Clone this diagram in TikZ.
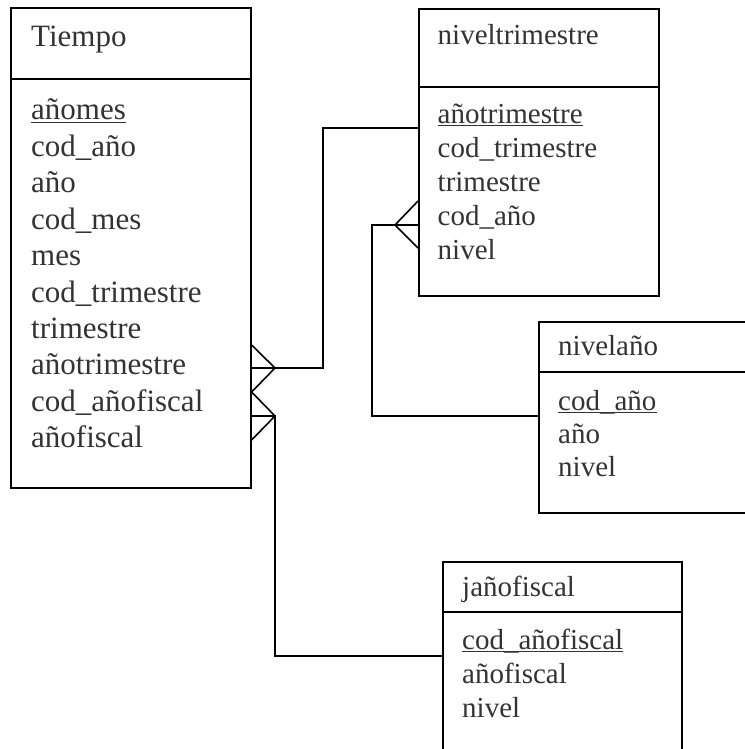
\documentclass[tikz,border=0pt]{standalone}
\usepackage{fontspec}
\setmainfont{Liberation Serif}
\usetikzlibrary{calc}
\definecolor{txt}{HTML}{333333}

\begin{document}
\begin{tikzpicture}[x=1pt,y=-1pt,
  ent/.style={draw=black, line width=1.6pt, anchor=north west, inner sep=0pt, rectangle},
  rel/.style={draw=black, line width=1.6pt},
  bigtxt/.style={font=\fontsize{31}{36.4}\selectfont, text=txt, anchor=base west, inner sep=0pt},
  smalltxt/.style={font=\fontsize{29}{34}\selectfont, text=txt, anchor=base west, inner sep=0pt},
  keyline/.style={draw=txt, line width=1pt},
]
\useasboundingbox (0,0) rectangle (744,749);

% ---------- Tiempo ----------
\node[ent, minimum width=240pt, minimum height=480pt] (tiempo) at (10,7) {};
\draw[rel] (tiempo.west |- 0,79) -- (tiempo.east |- 0,79);
\node[bigtxt] (tiempoT) at (31,46.5) {Tiempo};
\foreach \s [count=\i from 0] in {añomes,cod\_año,año,cod\_mes,mes,cod\_trimestre,trimestre,añotrimestre,cod\_añofiscal,añofiscal}
  \node[bigtxt] (ti\i) at (31,120+36.4*\i) {\s};
\draw[keyline] ($(ti0.base west)+(0,2.4)$) -- ($(ti0.base east)+(0,2.4)$);

% ---------- niveltrimestre ----------
\node[ent, minimum width=240pt, minimum height=287pt] (ntri) at (418,8) {};
\draw[rel] (ntri.west |- 0,87) -- (ntri.east |- 0,87);
\node[smalltxt] (ntriT) at (437.5,45) {niveltrimestre};
\foreach \s [count=\i from 0] in {añotrimestre,cod\_trimestre,trimestre,cod\_año,nivel}
  \node[smalltxt] (nt\i) at (437.5,123.3+34*\i) {\s};
\draw[keyline] ($(nt0.base west)+(0,2.4)$) -- ($(nt0.base east)+(0,2.4)$);

% ---------- nivelaño ----------
\node[ent, minimum width=222pt, minimum height=191pt] (nano) at (538,321) {};
\draw[rel] (nano.west |- 0,372) -- (nano.east |- 0,372);
\node[smalltxt] (nanoT) at (558,355) {nivelaño};
\foreach \s [count=\i from 0] in {cod\_año,año,nivel}
  \node[smalltxt] (na\i) at (558,410+33*\i) {\s};
\draw[keyline] ($(na0.base west)+(0,2.4)$) -- ($(na0.base east)+(0,2.4)$);

% ---------- jañofiscal ----------
\node[ent, minimum width=239pt, minimum height=200pt] (jfis) at (442,561) {};
\draw[rel] (jfis.west |- 0,612) -- (jfis.east |- 0,612);
\node[smalltxt] (jfisT) at (462,596.7) {jañofiscal};
\foreach \s [count=\i from 0] in {cod\_añofiscal,añofiscal,nivel}
  \node[smalltxt] (jf\i) at (462,649+34*\i) {\s};
\draw[keyline] ($(jf0.base west)+(0,2.4)$) -- ($(jf0.base east)+(0,2.4)$);

% ---------- relationships ----------
% Tiempo (many) -- niveltrimestre
\coordinate (tip1) at (275,368);
\draw[rel] (tiempo.east |- 0,345) -- (tip1) -- (tiempo.east |- 0,392);
\draw[rel] (tiempo.east |- tip1) -- (323,368) |- (ntri.west |- 0,128);

% Tiempo (many) -- jañofiscal
\coordinate (tip2) at (275,416);
\draw[rel] (tiempo.east |- 0,392) -- (tip2) -- (tiempo.east |- 0,440);
\draw[rel] (tiempo.east |- tip2) -- (tip2) |- (jfis.west |- 0,656);

% niveltrimestre (many) -- nivelaño
\coordinate (tip3) at (395,225);
\draw[rel] (ntri.west |- 0,201) -- (tip3) -- (ntri.west |- 0,248);
\draw[rel] (ntri.west |- tip3) -- (372,225) |- (nano.west |- 0,416);
\end{tikzpicture}
\end{document}
